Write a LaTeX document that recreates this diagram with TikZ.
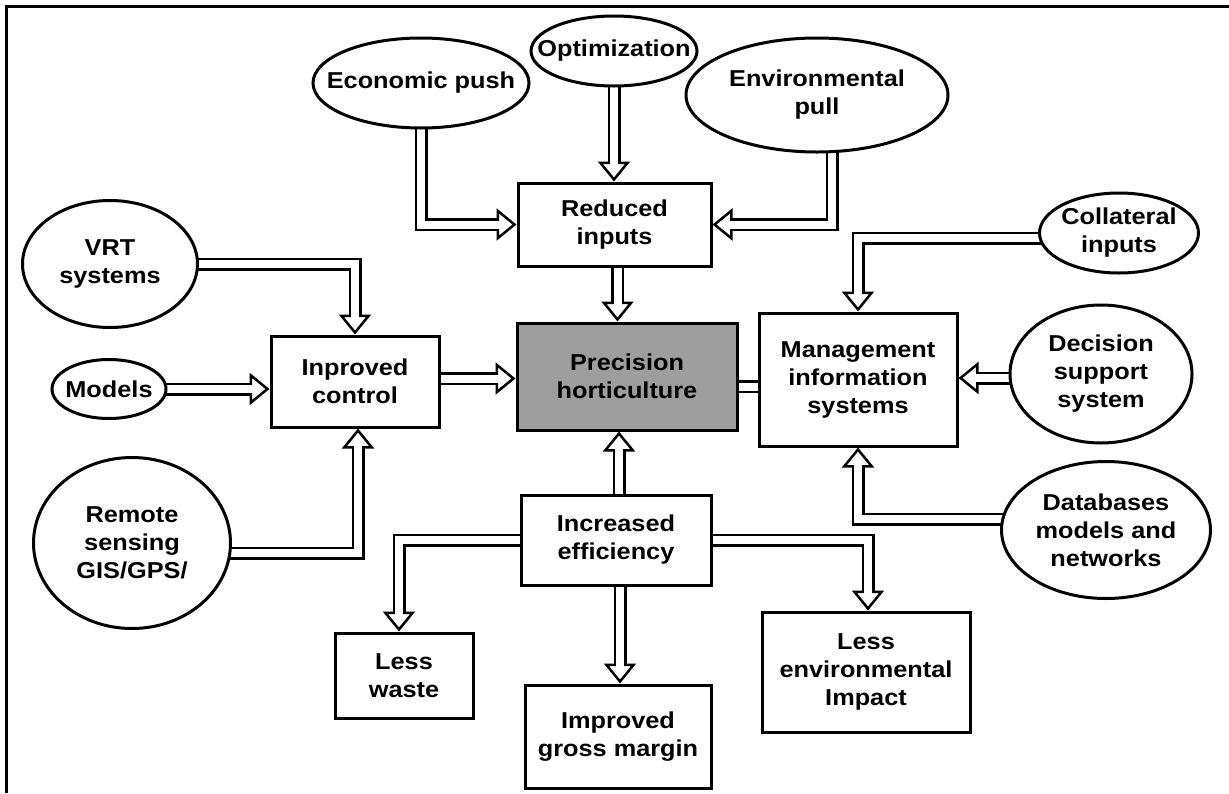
\documentclass[tikz,border=0pt]{standalone}
\usepackage{fontspec}
\setmainfont{Liberation Sans}[FakeStretch=1.1]
\usepackage{tikz}
\usetikzlibrary{arrows.meta}
\usetikzlibrary{shapes}
\usetikzlibrary{backgrounds}
\tikzstyle{blob}=[draw,ellipse,line width=3pt,fill=white,inner sep=-25pt,align=center,font=\fontsize{23}{28}\selectfont\bfseries]
\tikzstyle{block}=[draw,rectangle,line width=3pt,fill=white,inner sep=0pt,align=center,font=\fontsize{23}{28}\selectfont\bfseries]
\tikzstyle{core}=[fill=black!38]
% hollow arrow: outer shaft, head, inner shaft
\newcommand{\fatarrow}[1]{%
  \draw[line width=13pt,shorten >=16pt] #1;
  \draw[line width=2.5pt,-{Triangle[fill=white,length=20pt,width=32pt]}] #1;
  \draw[white,line width=8pt,shorten >=14pt] #1;
}

\begin{document}
\begin{tikzpicture}[x=1pt,y=-1pt]
\useasboundingbox (0,0) rectangle (1229,793);
\draw[line width=3pt] (1229,6) -- (6,6) -- (6,793);

\node [blob,minimum width=216pt,minimum height=90pt] (econ) at (421,83) {Economic push};
\node [blob,minimum width=166pt,minimum height=70pt] (optim) at (614,51) {Optimization};
\node [blob,minimum width=262pt,minimum height=114pt] (env) at (817,95) {Environmental\\pull};
\node [blob,minimum width=159pt,minimum height=80pt] (coll) at (1119,233) {Collateral\\inputs};
\node [blob,minimum width=182pt,minimum height=138pt] (dss) at (1101,374) {Decision\\support\\system};
\node [blob,minimum width=209pt,minimum height=137pt] (db) at (1106,530) {Databases\\models and\\networks};
\node [blob,minimum width=175pt,minimum height=127pt] (vrt) at (110,264) {VRT\\systems};
\node [blob,minimum width=114pt,minimum height=59pt] (models) at (109,389) {Models};
\node [blob,minimum width=197pt,minimum height=171pt] (remote) at (132,543) {Remote\\sensing\\GIS/GPS/};

\node [block,minimum width=193pt,minimum height=83pt] (reduced) at (614.5,224.5) {Reduced\\inputs};
\node [block,minimum width=168pt,minimum height=91pt] (improved) at (355,381.5) {Inproved\\control};
\node [block,core,minimum width=220pt,minimum height=107pt] (precision) at (627,376.5) {Precision\\horticulture};
\node [block,minimum width=198pt,minimum height=133pt] (mis) at (858,379.5) {Management\\information\\systems};
\node [block,minimum width=190pt,minimum height=90pt] (incr) at (616,540) {Increased\\efficiency};
\node [block,minimum width=138pt,minimum height=85pt] (waste) at (404,675.5) {Less\\waste};
\node [block,minimum width=186pt,minimum height=103pt] (gross) at (618,736.5) {Improved\\gross margin};
\node [block,minimum width=208pt,minimum height=120pt] (impact) at (866,672) {Less\\environmental\\Impact};

\begin{scope}[on background layer]
% into reduced inputs
\fatarrow{(econ.center) |- (reduced.west)}
\fatarrow{(optim.center) -- (optim.center |- reduced.north)}
\fatarrow{([xshift=15pt]env.center) |- (reduced.east)}
\fatarrow{([xshift=3pt]reduced.south) -- ([xshift=3pt]reduced.south |- precision.north)}
% into improved control
\fatarrow{(vrt.center) -| (improved.north)}
\fatarrow{(models.center) -- (models.center -| improved.west)}
\fatarrow{([yshift=-10pt]remote.center) -| ([xshift=3pt]improved.south)}
\fatarrow{([yshift=3pt]improved.east) -- ([yshift=3pt]improved.east -| precision.west)}
% management information systems
\draw[line width=2.5pt,double,double distance=8pt] ([yshift=-10pt]precision.east) -- ([yshift=-10pt]precision.east -| mis.west);
\fatarrow{([yshift=-5pt]coll.center) -| (mis.north)}
\fatarrow{([yshift=-4pt]dss.center) -- ([yshift=-4pt]dss.center -| mis.east)}
\fatarrow{([yshift=11pt]db.center) -| (mis.south)}
% out of increased efficiency
\fatarrow{([xshift=3pt]incr.north) -- ([xshift=3pt]incr.north |- precision.south)}
\fatarrow{(incr.center) -| ([xshift=-5pt]waste.north)}
\fatarrow{([xshift=4pt]incr.south) -- ([xshift=4pt]incr.south |- gross.north)}
\fatarrow{(incr.center) -| ([xshift=2pt]impact.north)}
\end{scope}
\end{tikzpicture}
\end{document}
